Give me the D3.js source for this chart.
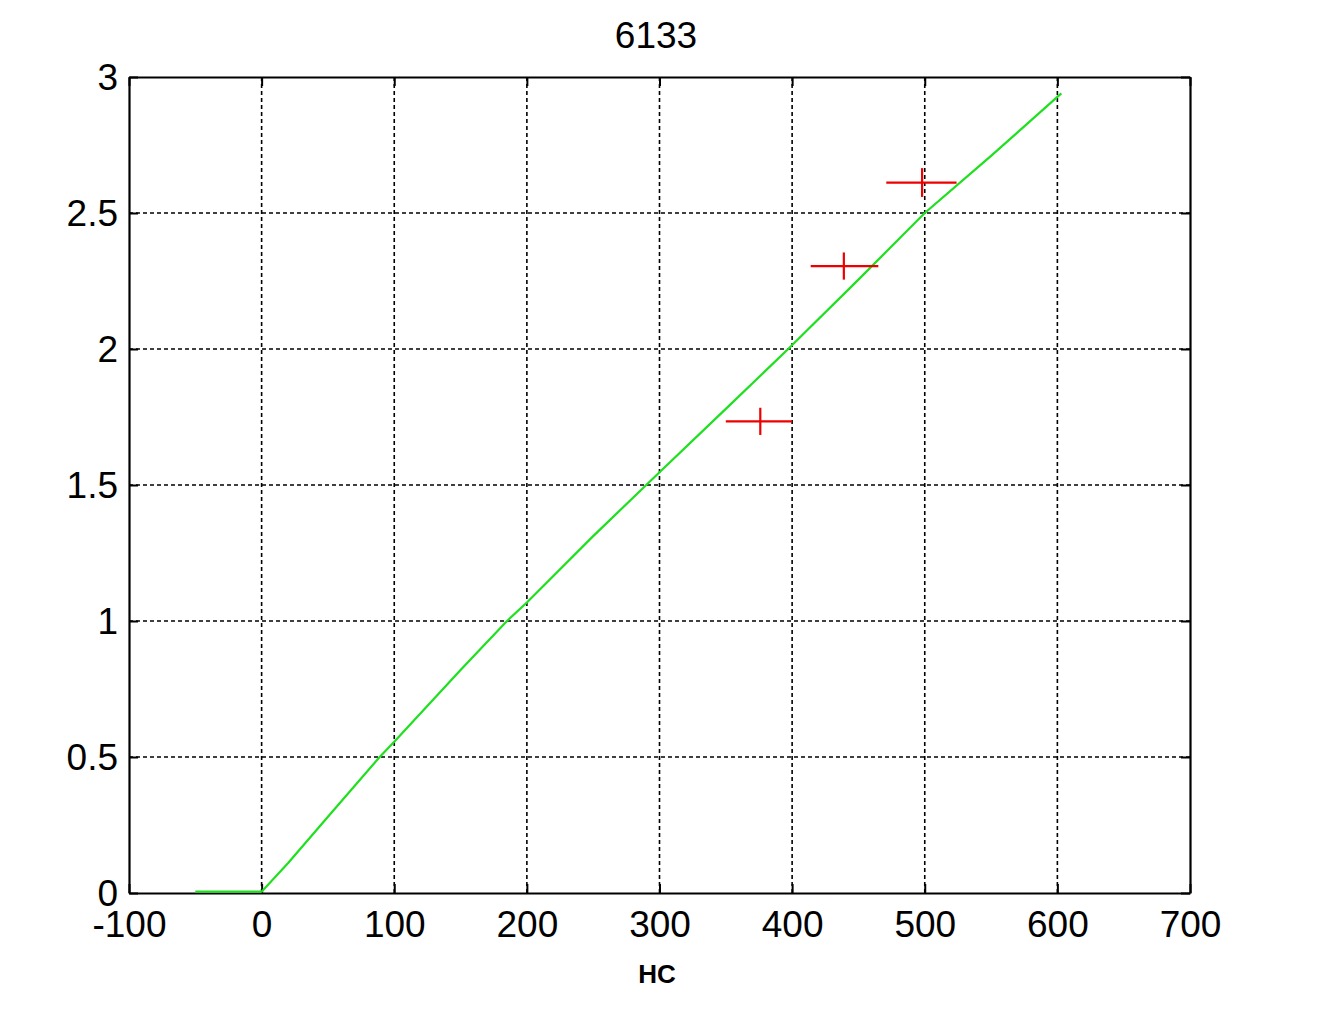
<!DOCTYPE html>
<html>
<head>
<meta charset="utf-8">
<script src="https://cdn.jsdelivr.net/npm/d3@7"></script>
<style>
  html, body { margin: 0; padding: 0; background: #fff; }
  text { font-family: "Liberation Sans", Arial, sans-serif; fill: #000; }
</style>
</head>
<body>
<svg id="chart" width="1317" height="1014"></svg>
<script>
// ---- data ----
const title = "6133";
const xLabel = "HC";
const xTicks = [-100, 0, 100, 200, 300, 400, 500, 600, 700];
const xTickLabels = ["-100", "0", "100", "200", "300", "400", "500", "600", "700"];
const yTicks = [0, 0.5, 1, 1.5, 2, 2.5, 3];
const yTickLabels = ["0", "0.5", "1", "1.5", "2", "2.5", "3"];

// green model curve
const curveX = [-50, 0, 20, 50, 89, 100, 150, 185, 200, 250, 290, 300, 350, 397, 450, 500, 550, 600, 603];
const curveY = [0.005, 0.005, 0.11, 0.28, 0.5, 0.556, 0.82, 1.0, 1.068, 1.312, 1.5, 1.547, 1.78, 2.0, 2.255, 2.5, 2.71, 2.927, 2.94];

// red observations with x-error
const obsX = [376, 439, 498];
const obsY = [1.734, 2.305, 2.612];
const obsXLo = [350, 414, 471];
const obsXHi = [400, 465, 524];
const obsYErr = [0.05, 0.05, 0.053];

// ---- layout ----
const svg = d3.select("#chart");
const L = 129, R = 1190, T = 77, B = 893;
const x = d3.scaleLinear().domain([-100, 700]).range([L, R]);
const y = d3.scaleLinear().domain([0, 3]).range([B, T]);

// grid
const grid = svg.append("g");
grid.selectAll(".vg").data(xTicks.slice(1, -1)).join("line")
  .attr("x1", d => x(d)).attr("x2", d => x(d))
  .attr("y1", T).attr("y2", B)
  .attr("stroke", "#000").attr("stroke-width", 1.6).attr("stroke-dasharray", "4,3");
grid.selectAll(".hg").data(yTicks.slice(1, -1)).join("line")
  .attr("x1", L).attr("x2", R)
  .attr("y1", d => y(d)).attr("y2", d => y(d))
  .attr("stroke", "#000").attr("stroke-width", 1.6).attr("stroke-dasharray", "4,3");

// axes (ticks inward on all sides)
const tickLen = 9;
const xb = d3.axisBottom(x).tickValues(xTicks).tickSizeInner(-tickLen).tickSizeOuter(0).tickPadding(18).tickFormat((d, i) => xTickLabels[i]);
const xt = d3.axisTop(x).tickValues(xTicks).tickSizeInner(-tickLen).tickSizeOuter(0).tickFormat("");
const yl = d3.axisLeft(y).tickValues(yTicks).tickSizeInner(-tickLen).tickSizeOuter(0).tickPadding(11).tickFormat((d, i) => yTickLabels[i]);
const yr = d3.axisRight(y).tickValues(yTicks).tickSizeInner(-tickLen).tickSizeOuter(0).tickFormat("");

function styleAxis(g) {
  g.selectAll("path.domain").attr("stroke", "#000").attr("stroke-width", 2.2);
  g.selectAll(".tick line").attr("stroke", "#000").attr("stroke-width", 2);
  g.selectAll(".tick text").style("font-size", "37px").style("font-family", "'Liberation Sans', Arial, sans-serif").attr("fill", "#000");
}
svg.append("g").attr("transform", `translate(0,${B})`).call(xb).call(styleAxis)
  .selectAll(".tick text").attr("dy", "0.71em");
svg.append("g").attr("transform", `translate(0,${T})`).call(xt).call(styleAxis);
svg.append("g").attr("transform", `translate(${L},0)`).call(yl).call(styleAxis)
  .selectAll(".tick text").attr("dy", "0.35em");
svg.append("g").attr("transform", `translate(${R},0)`).call(yr).call(styleAxis);

// green curve
const pts = curveX.map((v, i) => [v, curveY[i]]);
svg.append("path").datum(pts)
  .attr("fill", "none").attr("stroke", "#1ee01e").attr("stroke-width", 2.2)
  .attr("d", d3.line().x(d => x(d[0])).y(d => y(d[1])));

// red observations
const obs = obsX.map((v, i) => ({x: v, y: obsY[i], lo: obsXLo[i], hi: obsXHi[i], e: obsYErr[i]}));
const og = svg.append("g");
og.selectAll(".h").data(obs).join("line")
  .attr("x1", d => x(d.lo)).attr("x2", d => x(d.hi))
  .attr("y1", d => y(d.y)).attr("y2", d => y(d.y))
  .attr("stroke", "#ee0000").attr("stroke-width", 2.2);
og.selectAll(".v").data(obs).join("line")
  .attr("x1", d => x(d.x)).attr("x2", d => x(d.x))
  .attr("y1", d => y(d.y - d.e)).attr("y2", d => y(d.y + d.e))
  .attr("stroke", "#ee0000").attr("stroke-width", 2.2);

// title and label
svg.append("text").attr("x", 656).attr("y", 48).attr("text-anchor", "middle")
  .style("font-size", "37px").text(title);
svg.append("text").attr("x", 657).attr("y", 983).attr("text-anchor", "middle")
  .style("font-size", "26px").style("font-weight", "bold").text(xLabel);
</script>
</body>
</html>
